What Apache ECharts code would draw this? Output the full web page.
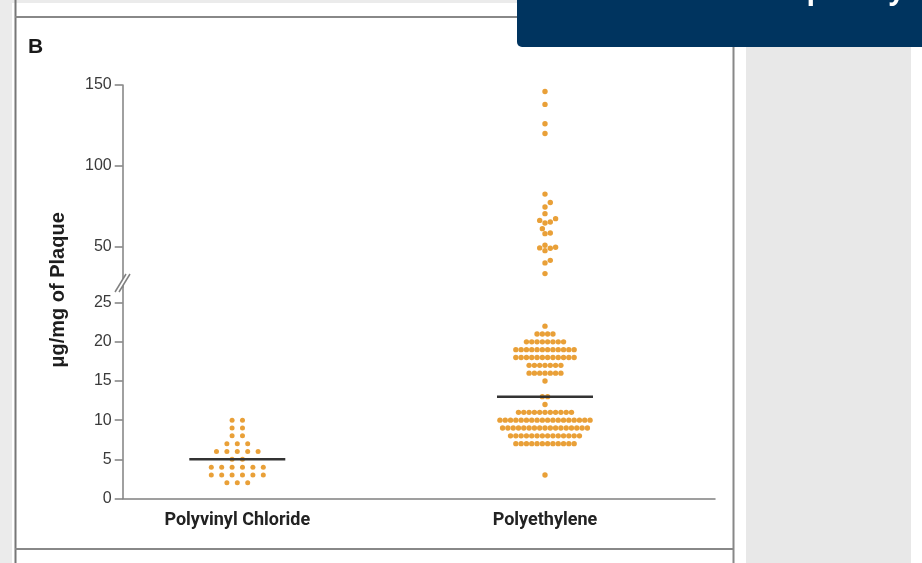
<!DOCTYPE html>
<html>
<head>
<meta charset="utf-8">
<script src="https://cdn.jsdelivr.net/npm/echarts@6/dist/echarts.min.js"></script>
<style>
  html, body { margin: 0; padding: 0; background: #ebebeb; }
  #chart { width: 922px; height: 563px; }
</style>
</head>
<body>
<div id="chart"></div>
<script>
// ---- Data -------------------------------------------------------------
// Groups along the x axis
const categories = ['Polyvinyl Chloride', 'Polyethylene'];

// Polyvinyl chloride: measured levels (µg/mg) and number of patients at each level
const pvcLevels = [10, 9, 8, 7, 6, 5, 4, 3, 2];
const pvcCounts = [2, 2, 2, 3, 5, 2, 6, 6, 3];

// Polyethylene, 0–25 µg/mg range: levels and patient counts
const peLevels = [22, 21, 20, 19, 18, 17, 16, 15, 13, 12, 11, 10, 9, 8, 7, 3];
const peCounts = [1, 4, 8, 12, 12, 7, 7, 1, 2, 1, 11, 18, 17, 14, 12, 1];

// Polyethylene, individual values above the axis break
const peHighValues = [146, 138, 126, 120, 82.5, 77.3, 74.5, 70.4, 67.3, 66.2, 65.2,
  64.6, 61.1, 58.4, 58, 50.8, 49.6, 49.2, 49, 47.5, 41.5, 39.9, 33.3];

// Horizontal summary line for each group
const summaryValues = [5, 13];

// Tick labels of the two axis segments
const lowerTicks = [0, 5, 10, 15, 20, 25];
const upperTicks = [50, 100, 150];

// ---- Layout -----------------------------------------------------------
const lowerRange = [0, 27];     // lower segment of the broken y axis
const upperRange = [25, 150];   // upper segment of the broken y axis
const breakAt = 25;             // values above this are plotted on the upper segment
const plotLeft = 122.7, plotRight = 715;
const upperTop = 85, upperHeight = 202;
const lowerTop = upperTop + upperHeight, lowerHeight = 211.5;
const xMin = -0.3724, xMax = 1.5525;

const axisGray = '#808080';
const dotColor = '#E9A038';
const labelFont = 'Liberation Sans';

const chart = echarts.init(document.getElementById('chart'), null, { renderer: 'canvas' });

function expand(levels, counts) {
  const out = [];
  levels.forEach((v, i) => { for (let k = 0; k < counts[i]; k++) out.push(v); });
  return out;
}

const yAxisCommon = {
  type: 'value',
  axisLine: { show: true, onZero: false, lineStyle: { color: axisGray, width: 1.5 } },
  axisTick: { show: true, length: 8, lineStyle: { color: axisGray, width: 1.5 } },
  axisLabel: { color: '#3a3a3a', fontFamily: labelFont, fontSize: 16, margin: 11 },
  splitLine: { show: false }
};

const baseOption = {
  animation: false,
  backgroundColor: 'transparent',
  grid: [
    { left: plotLeft, width: plotRight - plotLeft, top: upperTop, height: upperHeight,
      containLabel: false, outerBoundsMode: 'none' },
    { left: plotLeft, width: plotRight - plotLeft, top: lowerTop, height: lowerHeight,
      containLabel: false, outerBoundsMode: 'none' }
  ],
  xAxis: [
    { type: 'value', gridIndex: 0, min: xMin, max: xMax, show: false },
    { type: 'value', gridIndex: 1, min: xMin, max: xMax,
      axisLine: { show: true, onZero: false, lineStyle: { color: axisGray, width: 1.5 } },
      axisTick: { show: false },
      splitLine: { show: false },
      axisLabel: {
        customValues: [0, 1],
        formatter: v => categories[Math.round(v)] || '',
        color: '#222', fontFamily: 'Roboto', fontWeight: 'bold',
        fontSize: 18, margin: 13
      }
    }
  ],
  yAxis: [
    Object.assign({}, yAxisCommon, {
      gridIndex: 0, min: upperRange[0], max: upperRange[1],
      axisTick: Object.assign({}, yAxisCommon.axisTick, { customValues: upperTicks }),
      axisLabel: Object.assign({}, yAxisCommon.axisLabel, { customValues: upperTicks })
    }),
    Object.assign({}, yAxisCommon, {
      gridIndex: 1, min: lowerRange[0], max: lowerRange[1],
      axisTick: Object.assign({}, yAxisCommon.axisTick, { customValues: lowerTicks }),
      axisLabel: Object.assign({}, yAxisCommon.axisLabel, { customValues: lowerTicks })
    })
  ],
  series: []
};

chart.setOption(baseOption);

// Lay out a group as a dot swarm: identical values form a centred row,
// and rows are shifted sideways in half steps until no dot overlaps another.
function swarm(values, catIndex, axisIndex, spacing, diam) {
  const x0 = chart.convertToPixel({ xAxisIndex: axisIndex }, 0);
  const unit = chart.convertToPixel({ xAxisIndex: axisIndex }, 1) - x0;
  const sorted = values.slice().sort((a, b) => a - b);
  const groups = [];
  sorted.forEach(v => {
    const g = groups[groups.length - 1];
    if (g && g.v === v) g.n++; else groups.push({ v: v, n: 1 });
  });
  const placed = [];
  const pts = [];
  const h = spacing / 2;
  groups.forEach(g => {
    const py = chart.convertToPixel({ yAxisIndex: axisIndex }, g.v);
    const row = [];
    for (let i = 0; i < g.n; i++) row.push((i - (g.n - 1) / 2) * spacing);
    let shift = 0;
    for (let k = 0; k < 400; k++) {
      shift = (k % 2 === 1 ? 1 : -1) * Math.ceil(k / 2) * h;
      const ok = row.every(dx => placed.every(p =>
        (p.x - (dx + shift)) ** 2 + (p.y - py) ** 2 >= diam * diam - 1e-6));
      if (ok) break;
    }
    row.forEach(dx => {
      placed.push({ x: dx + shift, y: py });
      pts.push([catIndex + (dx + shift) / unit, g.v]);
    });
  });
  return pts;
}

const pvcValues = expand(pvcLevels, pvcCounts);
const peValues = expand(peLevels, peCounts).concat(peHighValues);

const pvcLow = pvcValues.filter(v => v <= breakAt);
const peLow = peValues.filter(v => v <= breakAt);
const peHigh = peValues.filter(v => v > breakAt);

const xUnit = chart.convertToPixel({ xAxisIndex: 1 }, 1) - chart.convertToPixel({ xAxisIndex: 1 }, 0);
const lineHalf = 48 / xUnit;

const dotSeries = (data, axisIndex, size) => ({
  type: 'scatter', xAxisIndex: axisIndex, yAxisIndex: axisIndex,
  data: data, symbol: 'circle', symbolSize: size,
  itemStyle: { color: dotColor, opacity: 1 }, z: 2, silent: true
});

chart.setOption({
  series: [
    dotSeries(swarm(pvcLow, 0, 1, 10.4, 5), 1, 5),
    dotSeries(swarm(peLow, 1, 1, 5.3, 5.3), 1, 5.4),
    dotSeries(swarm(peHigh, 1, 0, 5.3, 5.3), 0, 5.4),
  ].concat(summaryValues.map((v, i) => ({
    type: 'line', xAxisIndex: 1, yAxisIndex: 1,
    data: [[i - lineHalf, v], [i + lineHalf, v]],
    symbol: 'none', silent: true, z: 5,
    lineStyle: { color: '#333', width: 2.5 }
  }))),
  graphic: [
    // page background and panel frame
    { type: 'rect', z: -10, silent: true, shape: { x: 12, y: 3, width: 910, height: 560 }, style: { fill: '#fff' } },
    { type: 'rect', z: -9, silent: true, shape: { x: 746, y: 40, width: 165, height: 523 }, style: { fill: '#e8e8e8' } },
    { type: 'line', z: -8, silent: true, shape: { x1: 15.5, y1: 0, x2: 15.5, y2: 563 }, style: { stroke: '#777', lineWidth: 2 } },
    { type: 'line', z: -8, silent: true, shape: { x1: 15, y1: 17, x2: 520, y2: 17 }, style: { stroke: '#888', lineWidth: 2 } },
    { type: 'line', z: -8, silent: true, shape: { x1: 733.5, y1: 17, x2: 733.5, y2: 563 }, style: { stroke: '#888', lineWidth: 2 } },
    { type: 'line', z: -8, silent: true, shape: { x1: 15, y1: 549, x2: 734, y2: 549 }, style: { stroke: '#888', lineWidth: 2 } },
    // banner in the top right corner
    { type: 'rect', z: 20, silent: true, shape: { x: 517, y: -10, width: 420, height: 57, r: [0, 0, 0, 5] }, style: { fill: '#00345F' } },
    { type: 'text', z: 21, silent: true, style: { x: 760, y: 5, text: 'Help us by', fill: '#fff',
      font: 'bold 28px "Open Sans"', verticalAlign: 'bottom' } },
    // panel letter
    { type: 'text', silent: true, style: { x: 28, y: 37, text: 'B', fill: '#1a1a1a',
      font: 'bold 21px "Liberation Sans"' } },
    // y axis title
    { type: 'text', silent: true, rotation: Math.PI / 2, x: 58, y: 290,
      style: { x: 0, y: 0, text: 'μg/mg of Plaque', fill: '#1e1e1e', align: 'center', verticalAlign: 'middle',
        font: 'bold 20px "Liberation Sans"' } },
    // break marks on the y axis
    { type: 'polygon', z: 10, silent: true,
      shape: { points: [[plotLeft - 7.7, 283 + 9], [plotLeft + 3.3, 283 - 9], [plotLeft + 7.3, 283 - 9], [plotLeft - 3.7, 283 + 9]] },
      style: { fill: '#fff' } },
    { type: 'line', z: 11, silent: true,
      shape: { x1: plotLeft - 7.7, y1: 283 + 9, x2: plotLeft + 3.3, y2: 283 - 9 }, style: { stroke: axisGray, lineWidth: 1.5 } },
    { type: 'line', z: 11, silent: true,
      shape: { x1: plotLeft - 3.7, y1: 283 + 9, x2: plotLeft + 7.3, y2: 283 - 9 }, style: { stroke: axisGray, lineWidth: 1.5 } }
  ]
});
</script>
</body>
</html>
